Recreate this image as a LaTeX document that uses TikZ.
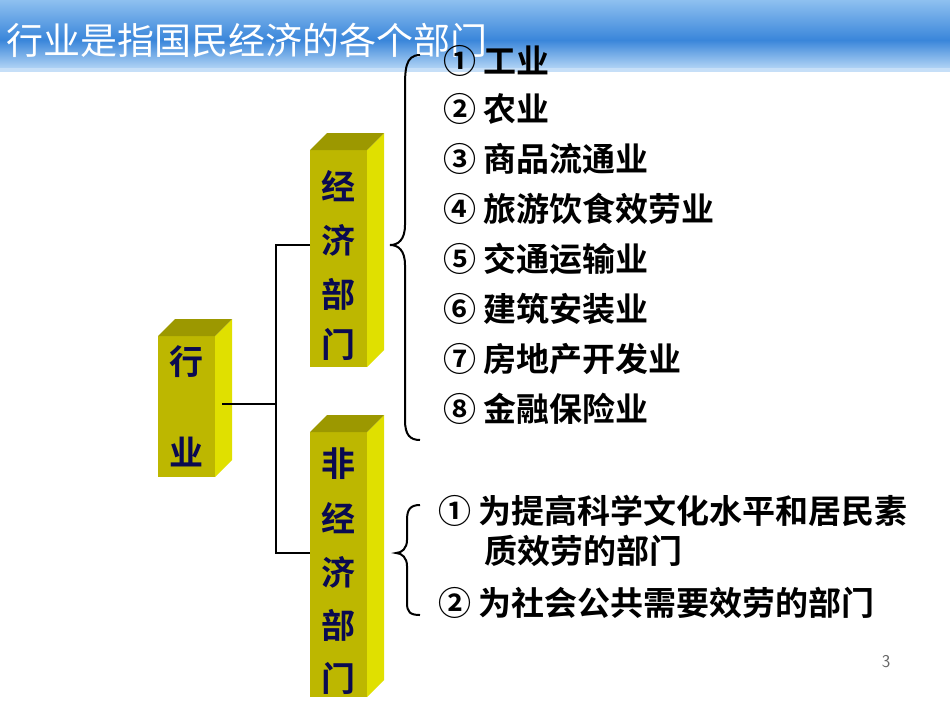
\documentclass[tikz,border=0pt]{standalone}
\usepackage{fontspec}
\newfontfamily\cjk{Noto Sans CJK SC}
\newfontfamily\cjkb{Noto Sans CJK SC Bold}
\begin{document}
\begin{tikzpicture}[x=1pt,y=-1pt,
  front/.style={fill=frontc},side/.style={fill=sidec},topf/.style={fill=topc},
  boxtxt/.style={font=\cjkb\fontsize{34}{34}\selectfont,text=navyc,inner sep=0},
  item/.style={font=\cjkb\fontsize{33}{33}\selectfont,anchor=west,inner sep=0},
  conn/.style={line width=2.2pt},
  br/.style={line width=2pt}]
\definecolor{frontc}{HTML}{BDB700}
\definecolor{sidec}{HTML}{E0E000}
\definecolor{topc}{HTML}{9C9800}
\definecolor{navyc}{HTML}{0A0A50}
\definecolor{bluea}{HTML}{3A86DA}
\definecolor{blueb}{HTML}{8EC0F0}
\useasboundingbox (0,0) rectangle (950,713);
\fill[white] (0,0) rectangle (950,713);
% banner
\shade[top color=blueb,bottom color=bluea] (0,0) rectangle (950,40);
\shade[top color=bluea,bottom color=blueb!70] (0,40) rectangle (950,68);
\fill[blueb!50] (0,68) rectangle (950,72);
\node[font=\cjk\fontsize{37}{37}\selectfont,text=white,anchor=west,inner sep=0] (title) at (6,40) {行业是指国民经济的各个部门};
% boxes
\newcommand\mybox[4]{% x1 y1 x2 y2 front
  \fill[front] (#1,#2) rectangle (#3,#4);
  \fill[side] (#3,#2) -- (#3+17,#2-17) -- (#3+17,#4-17) -- (#3,#4) -- cycle;
  \fill[topf] (#1,#2) -- (#1+17,#2-17) -- (#3+17,#2-17) -- (#3,#2) -- cycle;}
\mybox{158}{336}{215}{477}
\mybox{310}{150}{367}{367}
\mybox{310}{432}{367}{697}
\node[boxtxt] (h1) at (186,362) {行};
\node[boxtxt] (h2) at (186,452) {业};
\node[boxtxt] (e1) at (338,186) {经};
\node[boxtxt] (e2) at (338,240) {济};
\node[boxtxt] (e3) at (338,294) {部};
\node[boxtxt] (e4) at (338,344) {门};
\node[boxtxt] (n1) at (338,464) {非};
\node[boxtxt] (n2) at (338,518) {经};
\node[boxtxt] (n3) at (338,572) {济};
\node[boxtxt] (n4) at (338,625) {部};
\node[boxtxt] (n5) at (338,678) {门};
% connectors
\coordinate (hy) at (222,404);
\coordinate (jn) at (276,404);
\coordinate (ey) at (310,245);
\coordinate (ny) at (310,553);
\draw[conn] (hy) -- (jn);
\draw[conn] (ey) -| (jn) |- (ny);
% braces
\draw[br] (420,55) .. controls (405,55) and (405,70) .. (405,90) -- (405,225)
  .. controls (405,240) and (398,245) .. (390,245)
  .. controls (398,245) and (405,250) .. (405,265) -- (405,420)
  .. controls (405,435) and (410,440) .. (420,440);
\draw[br] (420,505) .. controls (410,505) and (407,510) .. (407,520) -- (407,540)
  .. controls (407,548) and (402,553) .. (396,553)
  .. controls (402,553) and (407,558) .. (407,566) -- (407,603)
  .. controls (407,612) and (410,615) .. (420,615);
% items
\node[item] (i1) at (443,61) {① 工业};
\node[item] (i2) at (443,109) {② 农业};
\node[item] (i3) at (443,159) {③ 商品流通业};
\node[item] (i4) at (443,209) {④ 旅游饮食效劳业};
\node[item] (i5) at (443,259) {⑤ 交通运输业};
\node[item] (i6) at (443,309) {⑥ 建筑安装业};
\node[item] (i7) at (443,359) {⑦ 房地产开发业};
\node[item] (i8) at (443,409) {⑧ 金融保险业};
\node[item] (j1) at (438,511) {① 为提高科学文化水平和居民素};
\node[item] (j1b) at (484,551) {质效劳的部门};
\node[item] (j2) at (438,603) {② 为社会公共需要效劳的部门};
\node[font=\sffamily\fontsize{18}{18}\selectfont,text=gray!80!black] (pg) at (886,662) {3};
\end{tikzpicture}
\end{document}
